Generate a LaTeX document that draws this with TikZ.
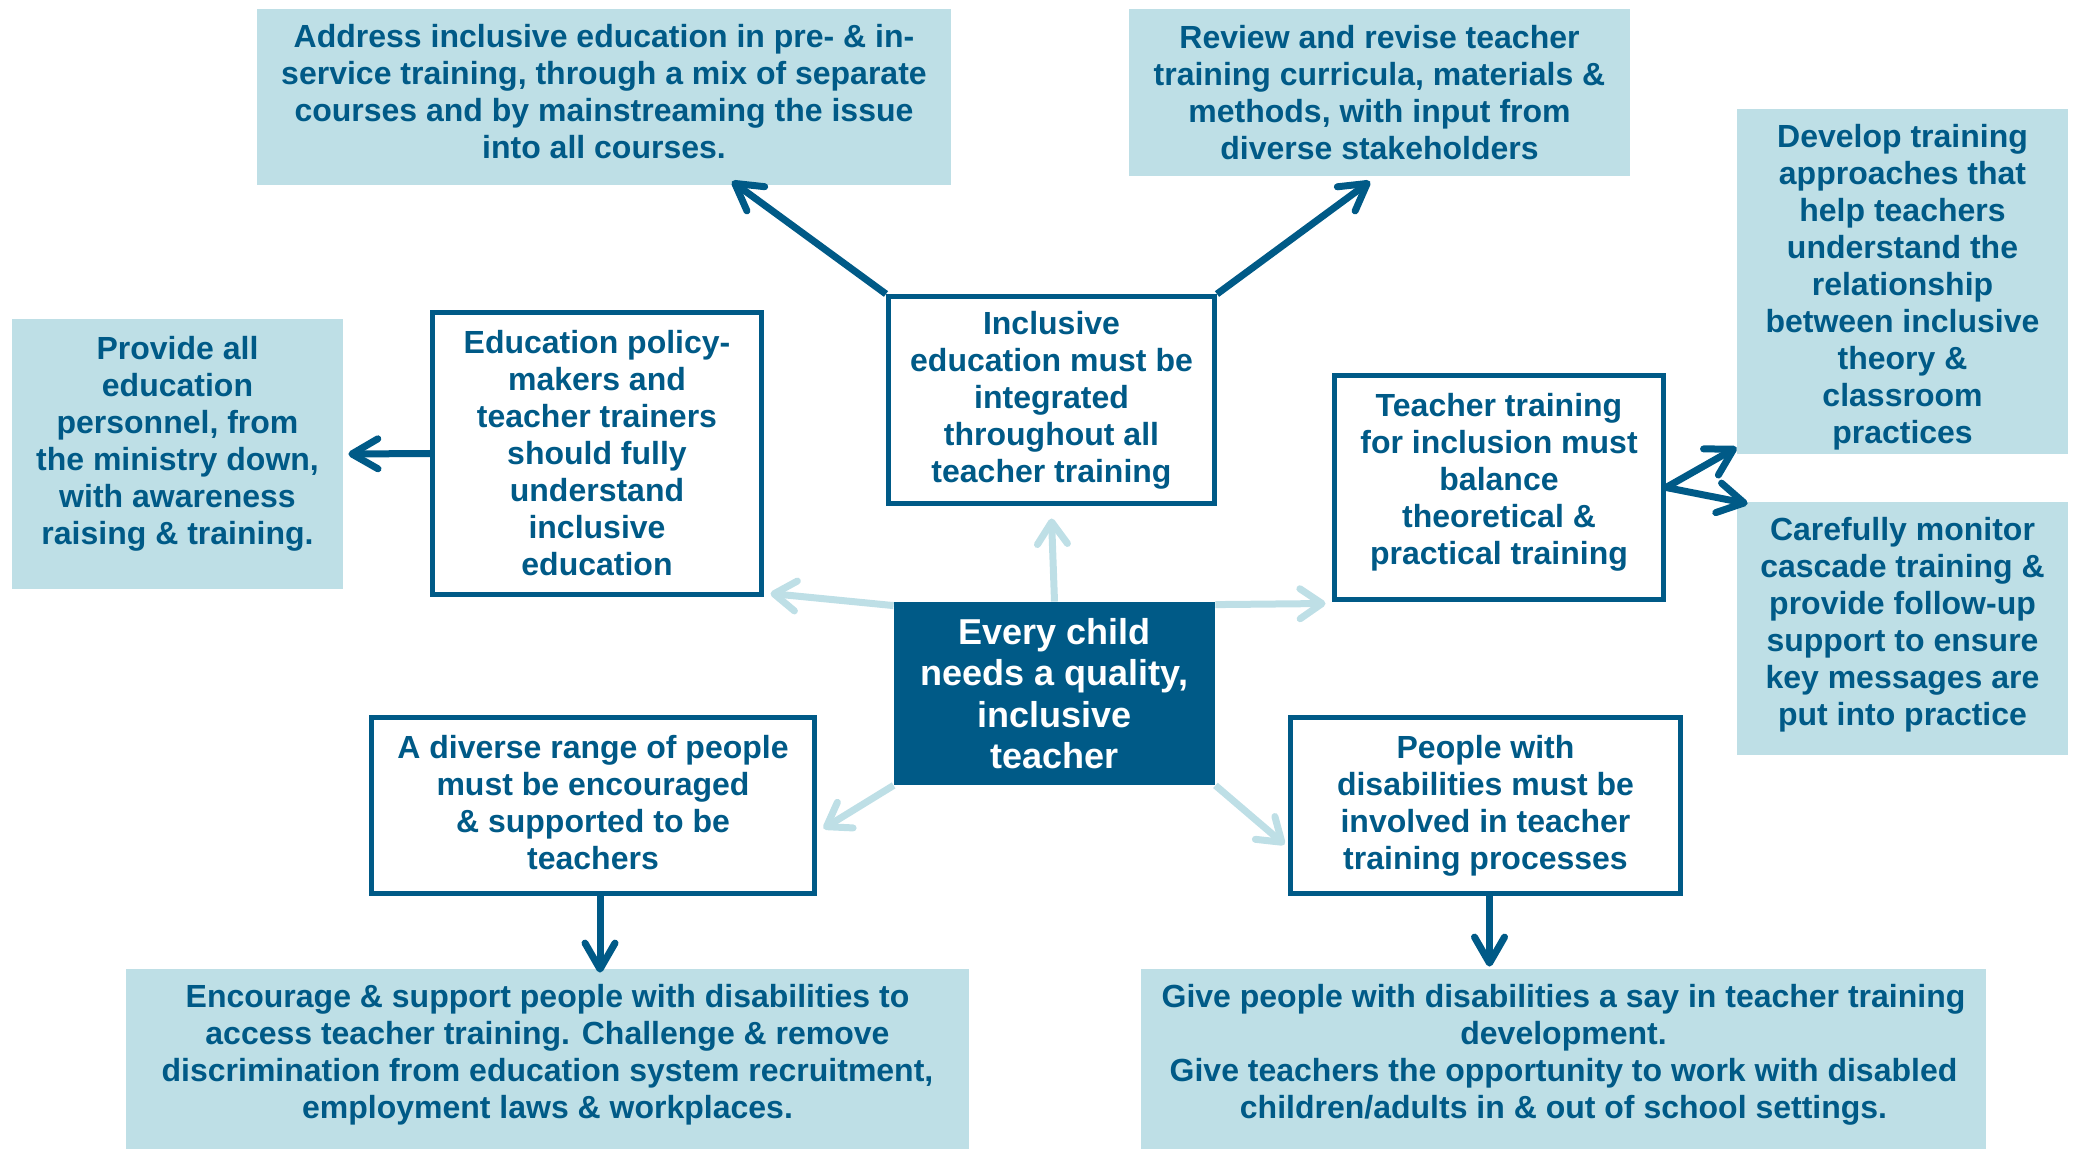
\documentclass[tikz,border=0pt]{standalone}
\usepackage{fontspec}
\setmainfont{Liberation Sans}
\usetikzlibrary{arrows.meta,calc,backgrounds}
\definecolor{dblue}{RGB}{0,90,135}
\definecolor{lblue}{RGB}{190,223,230}
\begin{document}
\begin{tikzpicture}[x=0.5pt,y=-0.5pt,
  txt/.style={font=\fontsize{16}{18.5}\selectfont\bfseries, text=dblue, align=center, inner sep=0pt, rectangle},
  fillbox/.style={txt, fill=lblue},
  linebox/.style={txt, draw=dblue, line width=2.5pt, fill=white},
  hubbox/.style={txt, fill=dblue, text=white, font=\fontsize{18}{20.7}\selectfont\bfseries},
  darr/.style={draw=dblue, line width=3.5pt, -{Straight Barb[length=13pt,width=15pt,round]}},
  larr/.style={draw=lblue, line width=3.5pt, -{Straight Barb[length=11pt,width=15pt,round]}},
]
\useasboundingbox (0,0) rectangle (2076,1149);

% light-blue filled boxes
\node[fillbox, minimum width=347pt, minimum height=88pt,
  label={[txt,yshift=2.5pt]center:{Address inclusive education in pre- \& in-\\service training, through a mix of separate\\courses and by mainstreaming the issue\\into all courses.}}] (addr) at (604,97) {};
\node[fillbox, minimum width=250.5pt, minimum height=83.5pt] (review) at (1379.5,92.5)
  {Review and revise teacher\\training curricula, materials \&\\methods, with input from\\diverse stakeholders};
\node[fillbox, minimum width=165.5pt, minimum height=172.5pt,
  label={[txt,yshift=-3pt]center:{Develop training\\approaches that\\help teachers\\understand the\\relationship\\between inclusive\\theory \&\\classroom\\practices}}] (develop) at (1902.5,281.5) {};
\node[fillbox, minimum width=165.5pt, minimum height=126.5pt,
  label={[txt,yshift=2pt]center:{Carefully monitor\\cascade training \&\\provide follow-up\\support to ensure\\key messages are\\put into practice}}] (monitor) at (1902.5,628.5) {};
\node[fillbox, minimum width=165.5pt, minimum height=135pt,
  label={[txt,yshift=5.3pt]center:{Provide all\\education\\personnel, from\\the ministry down,\\with awareness\\raising \& training.}}] (provide) at (177.5,454) {};
\node[fillbox, minimum width=421.5pt, minimum height=90pt,
  label={[txt,yshift=2pt]center:{Encourage \& support people with disabilities to\\access teacher training. Challenge \& remove\\discrimination from education system recruitment,\\employment laws \& workplaces.}}] (encourage) at (547.5,1059) {};
\node[fillbox, minimum width=422.5pt, minimum height=90pt,
  label={[txt,yshift=2pt]center:{Give people with disabilities a say in teacher training\\development.\\Give teachers the opportunity to work with disabled\\children/adults in \& out of school settings.}}] (give) at (1563.5,1059) {};

% outlined boxes
\node[linebox, minimum width=164.5pt, minimum height=141pt] (policy) at (597,453.5)
  {Education policy-\\makers and\\teacher trainers\\should fully\\understand\\inclusive\\education};
\node[linebox, minimum width=163pt, minimum height=103.5pt] (integ) at (1051.5,400)
  {Inclusive\\education must be\\integrated\\throughout all\\teacher training};
\node[linebox, minimum width=164.5pt, minimum height=112pt,
  label={[txt,yshift=2.5pt]center:{Teacher training\\for inclusion must\\balance\\theoretical \&\\practical training}}] (balance) at (1499,487.5) {};
\node[linebox, minimum width=221.5pt, minimum height=88pt,
  label={[txt,yshift=1.5pt]center:{A diverse range of people\\must be encouraged\\\& supported to be\\teachers}}] (diverse) at (593,805.5) {};
\node[linebox, minimum width=195pt, minimum height=88pt] (people) at (1485.5,805.5)
  {People with\\disabilities must be\\involved in teacher\\training processes};

% hub
\node[hubbox, minimum width=160.5pt, minimum height=91.5pt] (hub) at (1054.5,693.5)
  {Every child\\needs a quality,\\inclusive\\teacher};

% light arrows from hub
\begin{scope}[on background layer]
\draw[larr] (hub.north) -- ($(integ.south)+(0,12.5)$);
\draw[larr] ($(hub.north west)+(0,4)$) -- ($(policy.south east)+(6.5,-3.5)$);
\draw[larr] ($(hub.north east)+(0,3)$) -- ($(balance.south west)+(-6.5,1.5)$);
\draw[larr] (hub.south west) -- ($(diverse.north east)+(6.5,113.5)$);
\draw[larr] (hub.south east) -- ($(people.north west)+(-3.5,129.5)$);
\end{scope}

% dark arrows
\draw[darr] (integ.north west) -- ($(addr.south)+(128,-4)$);
\draw[darr] (integ.north east) -- ($(review.south)+(-9.5,5)$);
\draw[darr] (policy.west) -- ($(provide.east)+(5,0)$);
\draw[darr] (balance.east) -- ($(develop.south west)+(0,-7)$);
\draw[darr] (balance.east) -- ($(monitor.north west)+(11,2)$);
\draw[darr] ($(diverse.south)+(7,0)$) -- ($(encourage.north)+(52.5,4)$);
\draw[darr] ($(people.south)+(4,0)$) -- ($(give.north)+(-74,-2)$);
\end{tikzpicture}
\end{document}
